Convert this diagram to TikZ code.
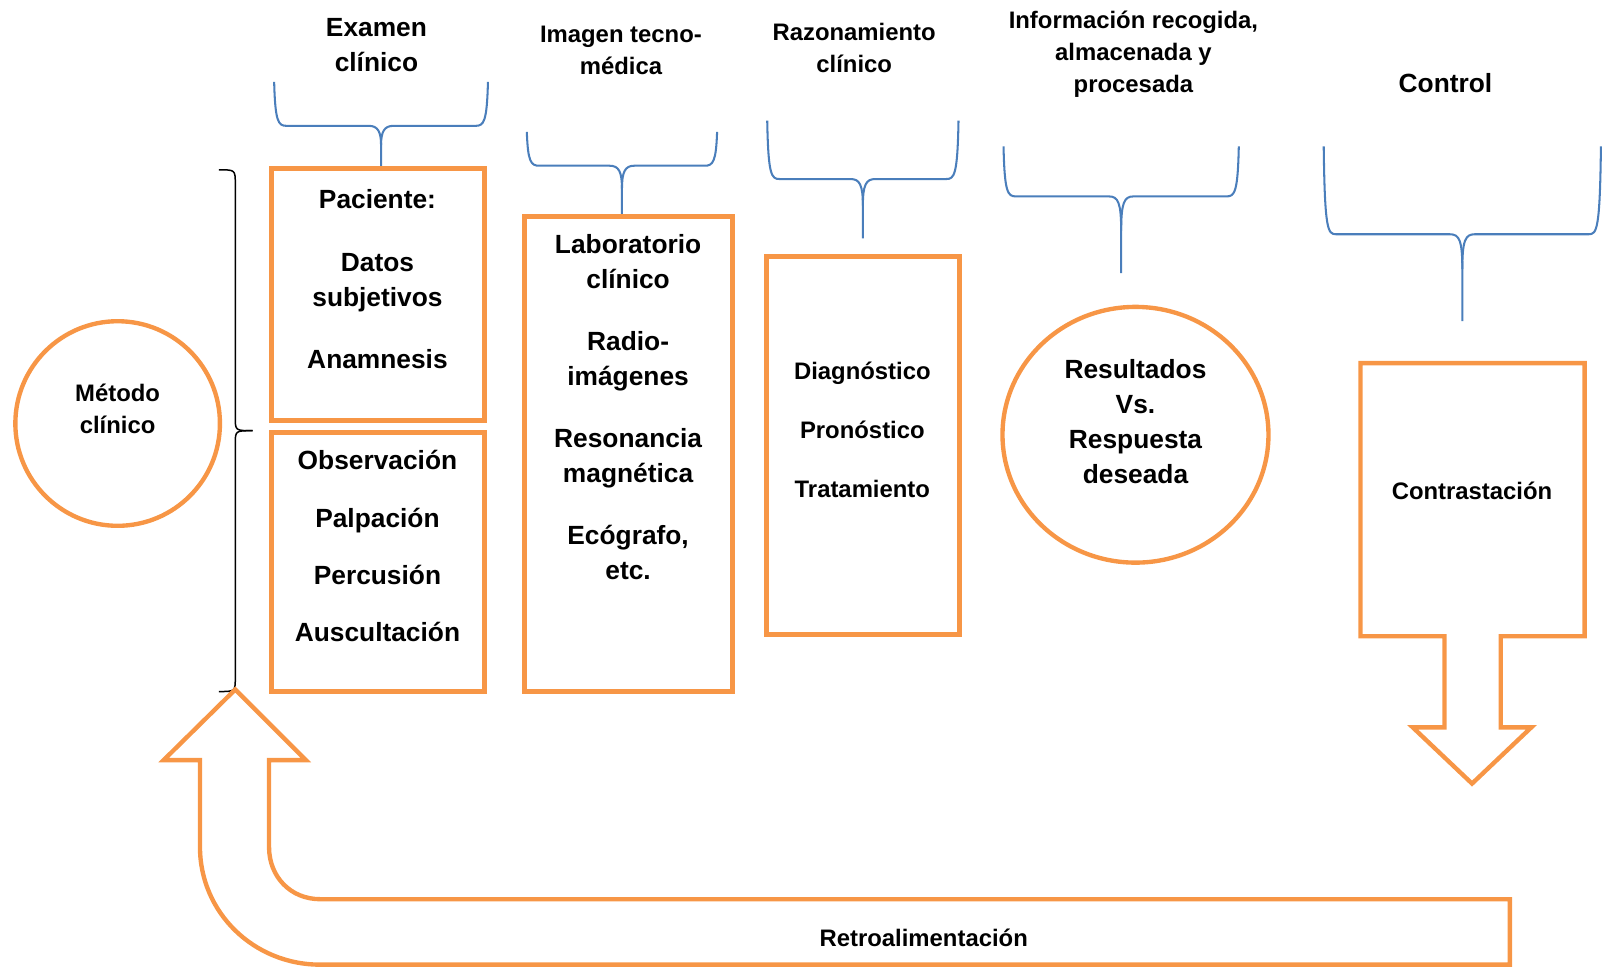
\documentclass[tikz,border=0pt]{standalone}
\usepackage{fontspec}
\setmainfont{Liberation Sans}
\usetikzlibrary{shapes.geometric}

\definecolor{naranja}{HTML}{F79646}
\definecolor{azul}{HTML}{4A7EBB}

\newcommand{\grande}{\bfseries\fontsize{19.3}{25.5}\selectfont}
\newcommand{\chico}{\bfseries\fontsize{17.5}{23.25}\selectfont}

% brace opening upwards: left, right, top, bar, tip
\newcommand{\llave}[5]{%
  \pgfmathsetmacro{\llx}{(#1+#2)/2}
  \pgfmathsetmacro{\lld}{min(34,0.45*(#5-#4))}
  \draw[llave] (#1,#3) .. controls (#1+1,#4-4) and (#1+4,#4) .. (#1+12,#4) -- (\llx-12,#4)
    .. controls (\llx-3,#4) and (\llx,#4+6) .. (\llx,#4+\lld) -- (\llx,#5);
  \draw[llave] (#2,#3) .. controls (#2-1,#4-4) and (#2-4,#4) .. (#2-12,#4) -- (\llx+12,#4)
    .. controls (\llx+3,#4) and (\llx,#4+6) .. (\llx,#4+\lld);
}

\tikzset{
  caja/.style={draw=naranja, line width=3.7pt, inner sep=0pt},
  forma/.style={draw=naranja, line width=3.2pt},
  llave/.style={draw=azul, line width=1.5pt},
  big/.style={font=\grande, align=center},
  small/.style={font=\chico, align=center},
}

\begin{document}
\begin{tikzpicture}[x=0.75pt, y=-0.75pt]
  \useasboundingbox (0,0) rectangle (1568,947);

  % headers
  \node[big] (hexamen) at (368,44) {Examen\\clínico};
  \node[small] (himagen) at (607,49.5) {Imagen tecno-\\médica};
  \node[small] (hrazon) at (835,47) {Razonamiento\\clínico};
  \node[small] (hinfo) at (1108,53) {Información recogida,\\almacenada y\\procesada};
  \node[big] (hcontrol) at (1413,81) {Control};

  % braces under the headers
  \llave{268}{477}{80}{123}{165}
  \llave{515}{701}{129}{162}{212}
  \llave{750}{937}{118}{175}{233}
  \llave{981}{1211}{143}{192}{267}
  \llave{1294}{1565}{143}{229}{314}

  % method
  \node[forma, circle, inner sep=0pt, minimum size=150pt] (metodo) at (115,414) {};
  \node[small] (met) at (115,399.5) {Método\\clínico};

  \draw[line width=1.1pt] (214,166) .. controls (230,166) .. (230,180) -- (230,408)
    .. controls (230,421) .. (247,421);
  \draw[line width=1.1pt] (214,676) .. controls (230,676) .. (230,662) -- (230,434)
    .. controls (230,421) .. (247,421);

  % boxes
  \node[caja, minimum width=156.75pt, minimum height=184.5pt] (paciente) at (369.5,288) {};
  \node[caja, minimum width=156.75pt, minimum height=189.75pt] (examen) at (369.5,549.5) {};
  \node[caja, minimum width=152.25pt, minimum height=348pt] (lab) at (614.5,444) {};
  \node[caja, minimum width=141.75pt, minimum height=276.75pt] (diag) at (843.5,435.5) {};

  \node[big] (tpac) at (369,273) {Paciente:\\[20.25pt]Datos\\subjetivos\\[20.25pt]Anamnesis};
  \node[big] (tobs) at (369,534) {Observación\\[16.5pt]Palpación\\[16.5pt]Percusión\\[16.5pt]Auscultación};
  \node[big] (tlab) at (614,398) {Laboratorio\\clínico\\[20.25pt]Radio-\\imágenes\\[20.25pt]Resonancia\\magnética\\[20.25pt]Ecógrafo,\\etc.};
  \node[small] (tdiag) at (843,420) {Diagnóstico\\[19.9pt]Pronóstico\\[19.9pt]Tratamiento};

  % results
  \node[forma, ellipse, inner sep=0pt, minimum width=195pt, minimum height=187.5pt] (resultados) at (1110,425) {};
  \node[big] (tres) at (1110,412) {Resultados\\Vs.\\Respuesta\\deseada};

  % control with down arrow
  \draw[forma] (1330,355) -- (1549,355) -- (1549,622) -- (1467,622) -- (1467,711)
    -- (1497,711) -- (1439,766) -- (1381,711) -- (1412,711) -- (1412,622)
    -- (1330,622) -- cycle;
  \node[small] (contr) at (1439,480) {Contrastación};

  % feedback arrow
  \draw[forma] (1476,879) -- (313,879) .. controls (284,879) and (263,857) .. (263,828)
    -- (263,743) -- (299,743) -- (230,674) -- (160,743) -- (195.5,743) -- (195.5,828)
    .. controls (195.5,892) and (248,943) .. (313,943) -- (1476,943) -- cycle;
  \node[small] (retro) at (903,917) {Retroalimentación};
\end{tikzpicture}
\end{document}
